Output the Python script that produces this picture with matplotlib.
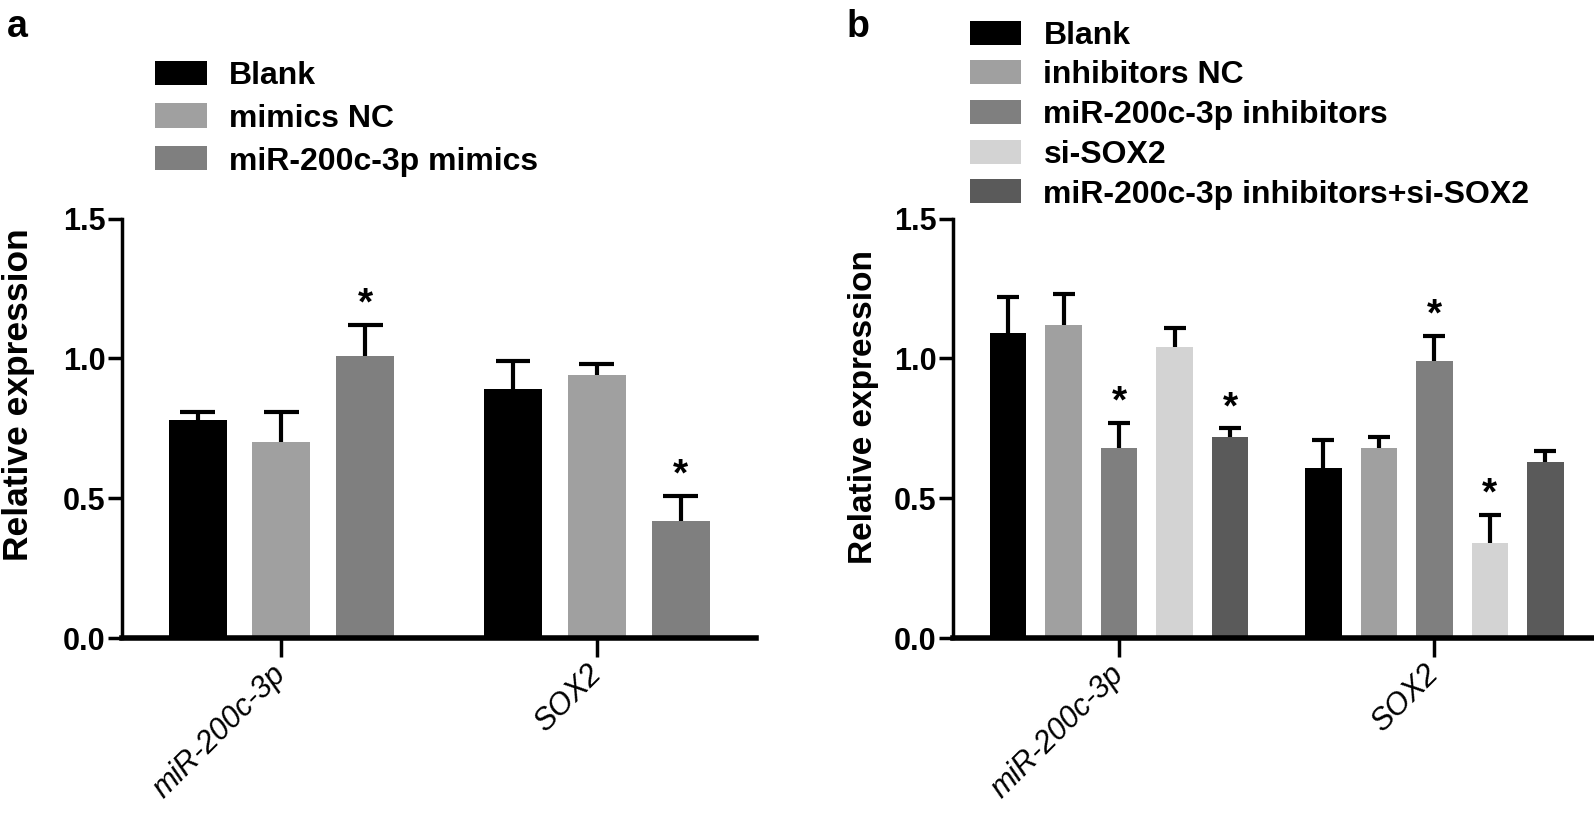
"""
Relative expression of miR-200c-3p and SOX2 (panels a and b), grouped bars
with upper SD error bars and significance stars.
"""
import matplotlib
matplotlib.use('Agg')
import matplotlib.pyplot as plt
from matplotlib.patches import Patch
import numpy as np

# Data
genes = ['miR-200c-3p', 'SOX2']

groups_a = ['Blank', 'mimics NC', 'miR-200c-3p mimics']
colors_a = ['#000000', '#a0a0a0', '#7f7f7f']
mean_a = [[0.78, 0.89], [0.70, 0.94], [1.01, 0.42]]
err_a = [[0.03, 0.10], [0.11, 0.04], [0.11, 0.09]]
sig_a = [[False, False], [False, False], [True, True]]

groups_b = ['Blank', 'inhibitors NC', 'miR-200c-3p inhibitors', 'si-SOX2',
            'miR-200c-3p inhibitors+si-SOX2']
colors_b = ['#000000', '#a0a0a0', '#7f7f7f', '#d3d3d3', '#5a5a5a']
mean_b = [[1.09, 0.61], [1.12, 0.68], [0.68, 0.99], [1.04, 0.34], [0.72, 0.63]]
err_b = [[0.13, 0.10], [0.11, 0.04], [0.09, 0.09], [0.07, 0.10], [0.03, 0.04]]
sig_b = [[False, False], [False, False], [True, True], [False, True], [True, False]]

yticks = [0.0, 0.5, 1.0, 1.5]

FONT = ['Liberation Sans', 'DejaVu Sans']
plt.rcParams['font.family'] = FONT
plt.rcParams['font.weight'] = 'bold'


def draw_panel(ax, groups, colors, means, errs, sigs, step, width, xlim,
               ylab_size, ylab_pad, ylab_y):
    x = np.arange(len(genes))
    n = len(groups)
    offsets = (np.arange(n) - (n - 1) / 2) * step
    for i in range(n):
        xs = x + offsets[i]
        m = np.array(means[i])
        e = np.array(errs[i])
        ax.bar(xs, m, width=width, color=colors[i], zorder=2)
        # upper error bar only, like the original
        ax.vlines(xs, m, m + e, color='black', lw=3, zorder=3)
        ax.hlines(m + e, xs - width * 0.3, xs + width * 0.3, color='black', lw=3, zorder=3)
        for j in range(len(genes)):
            if sigs[i][j]:
                ax.text(xs[j], m[j] + e[j] + 0.008, '*', ha='center', va='bottom',
                        fontsize=28, fontweight='bold')
    ax.set_xlim(*xlim)
    ax.set_ylim(0, 1.5)
    ax.set_yticks(yticks)
    ax.set_yticklabels([f'{v:.1f}' for v in yticks], fontsize=22, fontweight='bold')
    ax.set_xticks(x)
    ax.set_xticklabels(genes, rotation=45, ha='right', va='center', rotation_mode='anchor',
                       fontsize=22, fontstyle='italic', fontweight='normal')
    ax.spines['top'].set_visible(False)
    ax.spines['right'].set_visible(False)
    ax.spines['left'].set_linewidth(2.5)
    ax.spines['bottom'].set_linewidth(4)
    ax.tick_params(axis='y', length=10, width=2.5, pad=2)
    ax.tick_params(axis='x', length=14, width=2.5, pad=9)
    ax.set_ylabel('Relative expression', fontsize=ylab_size, fontweight='bold',
                  labelpad=ylab_pad)
    ax.yaxis.label.set_y(ylab_y)
    handles = [Patch(facecolor=c, edgecolor='none') for c in colors]
    return handles


fig = plt.figure(figsize=(15.94, 8.16), dpi=100)
ax_a = fig.add_axes([0.0765, 0.218, 0.398, 0.514])
ax_b = fig.add_axes([0.598, 0.218, 0.402, 0.514])

h_a = draw_panel(ax_a, groups_a, colors_a, mean_a, err_a, sig_a,
                 step=0.266, width=0.184, xlim=(-0.506, 1.506),
                 ylab_size=25.5, ylab_pad=20, ylab_y=0.58)
h_b = draw_panel(ax_b, groups_b, colors_b, mean_b, err_b, sig_b,
                 step=0.176, width=0.116, xlim=(-0.526, 1.506),
                 ylab_size=24, ylab_pad=11, ylab_y=0.55)

leg_kw = dict(loc='upper left', frameon=False, handlelength=1.6, handleheight=0.78,
              handletextpad=0.7, prop={'family': FONT, 'weight': 'bold', 'size': 23})
fig.legend(h_a, groups_a, bbox_to_anchor=(0.0795, 0.961), labelspacing=0.4, **leg_kw)
fig.legend(h_b, groups_b, bbox_to_anchor=(0.5905, 1.01), labelspacing=0.3, **leg_kw)

fig.text(0.004, 0.967, 'a', fontsize=27, fontweight='bold', va='center')
fig.text(0.531, 0.967, 'b', fontsize=27, fontweight='bold', va='center')

fig.savefig('out.png', dpi=100)
